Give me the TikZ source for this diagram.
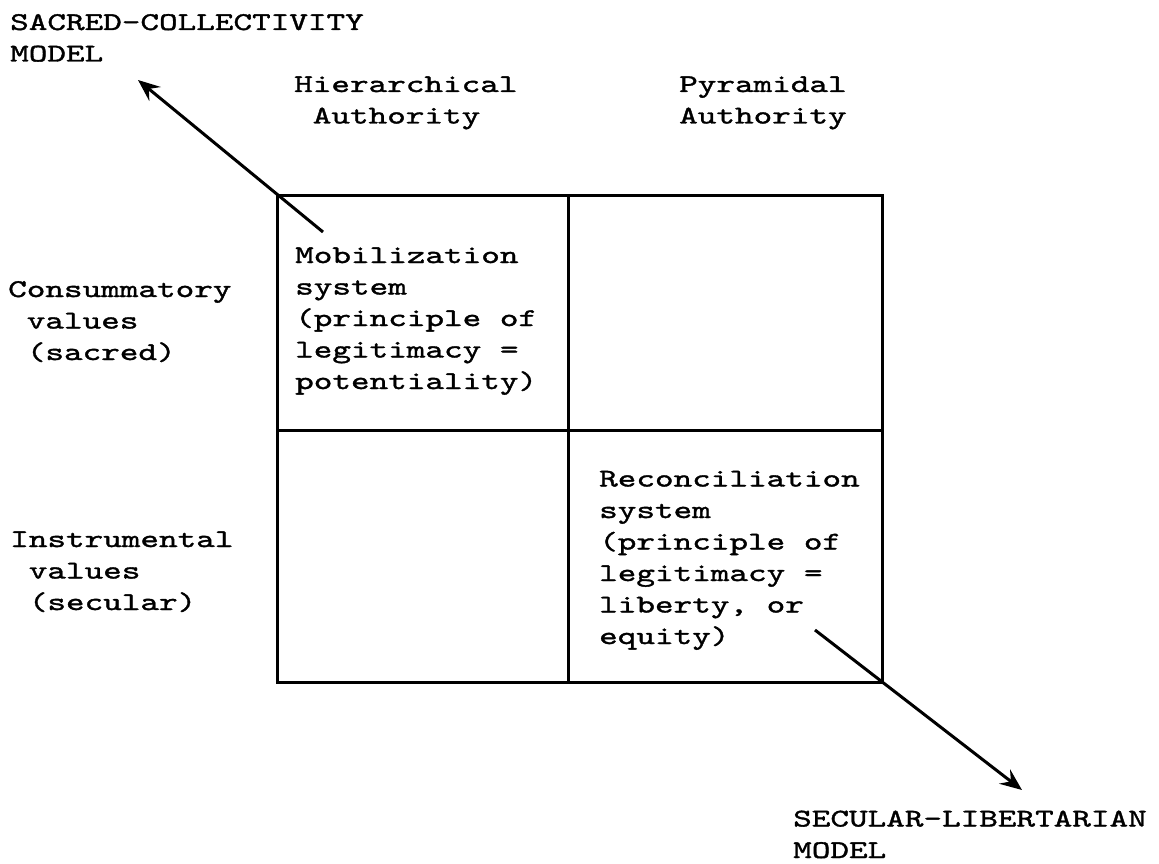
\documentclass[tikz,border=0pt]{standalone}
\usepackage{fontspec}
\newfontfamily\tw{lmmono10-regular.otf}[FakeStretch=1.39,FakeBold=1.4]
\usetikzlibrary{arrows.meta}
\begin{document}
\begin{tikzpicture}[x=1pt,y=-1pt,
  lbl/.style={font=\tw\fontsize{25.5}{31.5}\selectfont, align=left, anchor=base west, inner sep=0pt},
  gridline/.style={line width=3pt},
  arr/.style={line width=3pt, -{Stealth[length=22pt,width=18pt,inset=8pt]}}]
\useasboundingbox (0,0) rectangle (1159,864);
\fill[white] (0,0) rectangle (1159,864);
% grid
\coordinate (tl) at (277,195);
\coordinate (br) at (882,682);
\coordinate (mt) at (568,195);
\coordinate (mb) at (568,682);
\coordinate (ml) at (277,430);
\coordinate (mr) at (882,430);
\draw[gridline] (tl) rectangle (br);
\draw[gridline] (mt) -- (mb);
\draw[gridline] (ml) -- (mr);
% labels (anchored at the baseline of the last line)
\node[lbl] (sacred) at (10,61.5) {SACRED-COLLECTIVITY\\MODEL};
\node[lbl] (hier) at (294,123.5) {Hierarchical\\\hphantom{x}Authority};
\node[lbl] (pyr) at (679,123.5) {Pyramidal\\Authority};
\node[lbl] (cons) at (8,360) {Consummatory\\\hphantom{x}values\\\hphantom{x}(sacred)};
\node[lbl] (instr) at (10,610) {Instrumental\\\hphantom{x}values\\\hphantom{x}(secular)};
\node[lbl] (mob) at (295,389) {Mobilization\\system\\(principle of\\legitimacy =\\potentiality)};
\node[lbl] (rec) at (599,644) {Reconciliation\\system\\(principle of\\legitimacy =\\liberty, or\\equity)};
\node[lbl] (secular) at (793,858) {SECULAR-LIBERTARIAN\\MODEL};
% arrows
\coordinate (a1s) at (323,232);
\coordinate (a1e) at (138,80);
\coordinate (a2s) at (815,630);
\coordinate (a2e) at (1022,790);
\draw[arr] (a1s) -- (a1e);
\draw[arr] (a2s) -- (a2e);
\end{tikzpicture}
\end{document}
